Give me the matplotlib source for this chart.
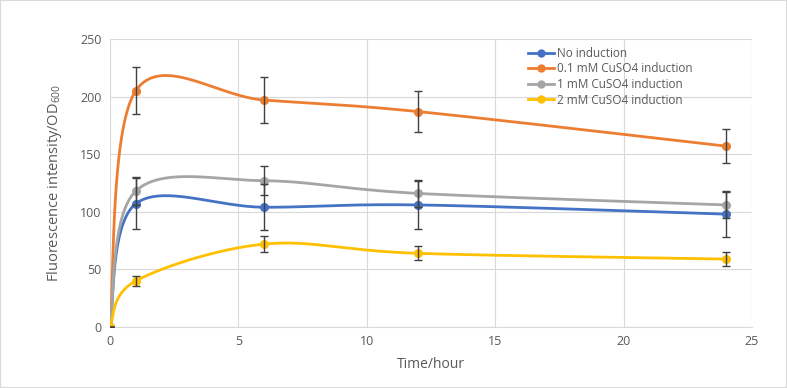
import numpy as np
import matplotlib
matplotlib.use("Agg")
import matplotlib.pyplot as plt

plt.rcParams["font.family"] = ["Open Sans", "DejaVu Sans"]
plt.rcParams["mathtext.default"] = "regular"

# data
hours = [0, 1, 6, 12, 24]
no_ind = [0, 107, 104, 106, 98]
no_ind_err = [0, 22, 20, 21, 20]
cu01 = [0, 205, 197, 187, 157]
cu01_err = [0, 20.5, 20, 18, 15]
cu1 = [0, 118, 127, 116, 106]
cu1_err = [0, 12, 12.5, 11.5, 11]
cu2 = [0, 40, 72, 64, 59]
cu2_err = [0, 4.5, 7, 6, 6]

labels = ["No induction", "0.1 mM CuSO4 induction",
          "1 mM CuSO4 induction", "2 mM CuSO4 induction"]
colors = ["#4472C4", "#ED7D31", "#A5A5A5", "#FFC000"]


def smooth(xs, ys, n=60):
    # Excel-like smoothed line: Bezier segments with Catmull-Rom control points
    p = np.column_stack([xs, ys]).astype(float)
    out = []
    for i in range(len(p) - 1):
        p0 = p[i - 1] if i > 0 else p[i]
        p1, p2 = p[i], p[i + 1]
        p3 = p[i + 2] if i + 2 < len(p) else p[i + 1]
        c1 = p1 + (p2 - p0) / 6
        c2 = p2 - (p3 - p1) / 6
        t = np.linspace(0, 1, n)[:, None]
        seg = ((1 - t) ** 3 * p1 + 3 * (1 - t) ** 2 * t * c1
               + 3 * (1 - t) * t ** 2 * c2 + t ** 3 * p2)
        out.append(seg if i == 0 else seg[1:])
    out = np.vstack(out)
    return out[:, 0], out[:, 1]


fig = plt.figure(figsize=(7.87, 3.88), dpi=100)
ax = fig.add_axes([0.1398, 0.157, 0.8157, 0.7425])

series = [(no_ind, no_ind_err), (cu01, cu01_err), (cu1, cu1_err), (cu2, cu2_err)]
for (vals, errs), lab, col in zip(series, labels, colors):
    sx, sy = smooth(hours, vals)
    ax.plot(sx, sy, color=col, lw=2.0, zorder=3)
    ax.plot(hours, vals, "o", color=col, ms=5.5, zorder=4)
    ax.plot([], [], "-o", color=col, lw=2.0, ms=5, label=lab)
    ax.errorbar(hours, vals, yerr=errs, fmt="none", ecolor="#404040",
                elinewidth=1.0, capsize=3, capthick=1.0, zorder=5)

ax.set_xlim(0, 25)
ax.set_ylim(0, 250)
ax.set_xticks(range(0, 26, 5))
ax.set_yticks(range(0, 251, 50))
ax.grid(True, color="#D9D9D9", lw=0.8)
ax.set_axisbelow(True)
for s in ["top", "right", "left"]:
    ax.spines[s].set_visible(False)
ax.spines["bottom"].set_color("#D9D9D9")
ax.tick_params(length=0, labelsize=9, colors="#595959", pad=6)

ax.set_xlabel("Time/hour", fontsize=10, color="#595959", labelpad=6)
ax.set_ylabel("Fluorescence intensity/OD$_{600}$", fontsize=10.5,
              color="#595959", labelpad=12)

ax.legend(loc="upper left", bbox_to_anchor=(0.635, 1.01), frameon=False,
          fontsize=8.5, labelcolor="#595959", handlelength=2.2,
          handletextpad=0.2, labelspacing=0.22)

fig.patches.append(plt.Rectangle((0, 0), 1, 1, transform=fig.transFigure,
                                 fill=False, edgecolor="#D9D9D9", lw=1.5))

fig.savefig("out.png", dpi=100)
